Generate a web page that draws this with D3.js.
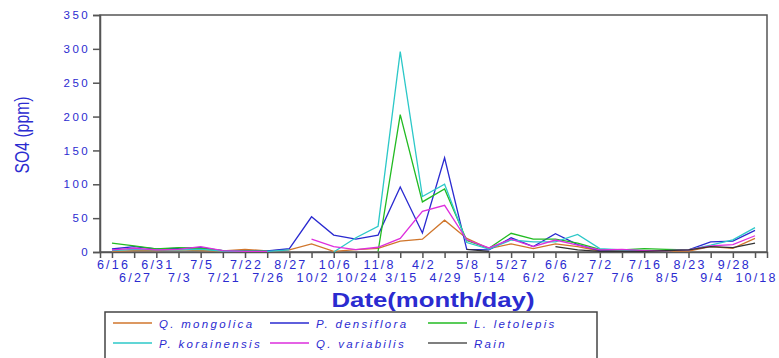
<!DOCTYPE html>
<html>
<head>
<meta charset="utf-8">
<script src="https://cdn.jsdelivr.net/npm/d3@7"></script>
<style>
  html, body { margin: 0; padding: 0; background: #fff; }
  svg { display: block; }
  text { font-family: "Liberation Sans", Arial, Helvetica, sans-serif; }
</style>
</head>
<body>
<svg id="chart" width="779" height="358"></svg>
<script>
// Sampling dates (month/day)
const dates = ["6/16","6/27","6/31","7/3","7/5","7/21","7/22","7/26","8/27","10/2",
               "10/6","10/24","11/8","3/15","4/2","4/29","5/8","5/14","5/27","6/2",
               "6/6","6/27","7/2","7/6","7/16","8/5","8/23","9/4","9/28","10/18"];

// SO4 concentration (ppm) per stand; null = no sample
const qMongolica = [1,2,2,3,2,1.5,4,1.5,3,12, 1,3.5,5.5,16,19,47,20,5,12,5, 12,8,1.5,1,1,1.5,1.5,8,5.5,20];
const pDensiflora = [4.4,8,4.4,5.4,6.4,2,1.5,1.5,5,52, 25,19,25,96,28,139,4,3,21,8, 27,11,2,1,2,2,3,15,16,32];
const lLetolepis = [13,9,4.5,6.4,5.4,2,1.5,1.5,null,null, null,null,1,203,74,93,17,5.4,27.6,19, 19,13,4,3,5,4,3,null,null,null];
const pKorainensis = [2,4,3,3,4,1.5,1,1,3,null, 0,21,38,296,82,100,14,4.4,17.7,15, 15,26,5,3,2,2,3,10,18,36];
const qVariabilis = [3,5.5,3,4,8,2,1,1,null,19, 8,3.5,7,20,60,69,18,6,19,8, 17.7,10,3,4,2,2,3,9,11,24];
const rain = [null,null,null,null,null,null,null,null,null,null, null,null,null,null,null,null,4,1,null,null, 8,3,1,1,1,2,3,8,6.5,13];

const yTicks = [0,50,100,150,200,250,300,350];

const seriesNames = ["Q. mongolica","P. densiflora","L. letolepis","P. korainensis","Q. variabilis","Rain"];
const seriesValues = [qMongolica, pDensiflora, lLetolepis, pKorainensis, qVariabilis, rain];
const seriesColors = ["#d0762c","#2a2ad0","#22bb22","#2cc8c8","#dd2edd","#333333"];

const svg = d3.select("#chart");
const blue = "#2b2bd0";
const frame = { left: 100, right: 767, top: 15, bottom: 252 };

const x = d3.scalePoint()
  .domain(d3.range(dates.length))
  .range([frame.left, frame.right])
  .padding(0.54);

const y = d3.scaleLinear()
  .domain([0, 350])
  .range([frame.bottom, frame.top]);

// Plot frame
svg.append("rect")
  .attr("x", frame.left).attr("y", frame.top)
  .attr("width", frame.right - frame.left)
  .attr("height", frame.bottom - frame.top)
  .attr("fill", "none")
  .attr("stroke", "#555")
  .attr("stroke-width", 1.5);

// Y axis
const yAxis = svg.append("g")
  .attr("transform", `translate(${frame.left},0)`)
  .call(d3.axisLeft(y).tickValues(yTicks).tickSize(7).tickPadding(3));
yAxis.select(".domain").attr("stroke", "#555").attr("stroke-width", 1.5);
yAxis.selectAll(".tick line").attr("stroke", "#555").attr("stroke-width", 1.5);
yAxis.selectAll(".tick text")
  .attr("fill", blue)
  .attr("font-size", 11.5)
  .attr("letter-spacing", 2.4)
  .attr("font-family", "'Liberation Sans', Arial, sans-serif");

// X axis with alternating two-row labels
const xAxis = svg.append("g")
  .attr("transform", `translate(0,${frame.bottom})`)
  .call(d3.axisBottom(x).tickSize(6).tickFormat(i => dates[i]));
xAxis.select(".domain").attr("stroke", "#555").attr("stroke-width", 1.5);
xAxis.selectAll(".tick line").attr("stroke", "#555").attr("stroke-width", 1.5);
xAxis.selectAll(".tick text")
  .attr("fill", blue)
  .attr("font-size", 12.5)
  .attr("letter-spacing", 2.2)
  .attr("font-family", "'Liberation Sans', Arial, sans-serif")
  .attr("dy", null)
  .attr("dx", 1)
  .attr("y", i => (i % 2 === 0 ? 17 : 30));

// Axis titles
svg.append("text")
  .attr("transform", "translate(29,135) rotate(-90)")
  .attr("text-anchor", "middle")
  .attr("fill", blue)
  .attr("font-size", 20)
  .attr("textLength", 77)
  .attr("lengthAdjust", "spacingAndGlyphs")
  .text("SO4 (ppm)");

svg.append("text")
  .attr("x", 433).attr("y", 307)
  .attr("text-anchor", "middle")
  .attr("fill", blue)
  .attr("font-size", 20)
  .attr("font-weight", "bold")
  .attr("textLength", 203)
  .attr("lengthAdjust", "spacingAndGlyphs")
  .text("Date(month/day)");

// Series lines
const line = d3.line()
  .defined(d => d != null)
  .x((d, i) => x(i))
  .y(d => y(d));

seriesValues.forEach((vals, k) => {
  svg.append("path")
    .datum(vals)
    .attr("fill", "none")
    .attr("stroke", seriesColors[k])
    .attr("stroke-width", 1.3)
    .attr("stroke-linejoin", "miter")
    .attr("d", line);
});

// Legend
const legend = svg.append("g");
legend.append("rect")
  .attr("x", 105).attr("y", 312)
  .attr("width", 492).attr("height", 60)
  .attr("fill", "#fff")
  .attr("stroke", "#444")
  .attr("stroke-width", 1.5);

const colX = [113, 270, 428];
const rowY = [323, 343];
seriesNames.forEach((name, k) => {
  const cx = colX[k % 3], cy = rowY[Math.floor(k / 3)];
  legend.append("line")
    .attr("x1", cx).attr("x2", cx + 39)
    .attr("y1", cy).attr("y2", cy)
    .attr("stroke", k === 5 ? "#555" : seriesColors[k])
    .attr("stroke-width", 1.3);
  legend.append("text")
    .attr("x", cx + 46).attr("y", cy + 4.5)
    .attr("fill", blue)
    .attr("font-size", 11.5)
    .attr("font-style", "italic")
    .attr("letter-spacing", 2.3)
    .text(name);
});
</script>
</body>
</html>
